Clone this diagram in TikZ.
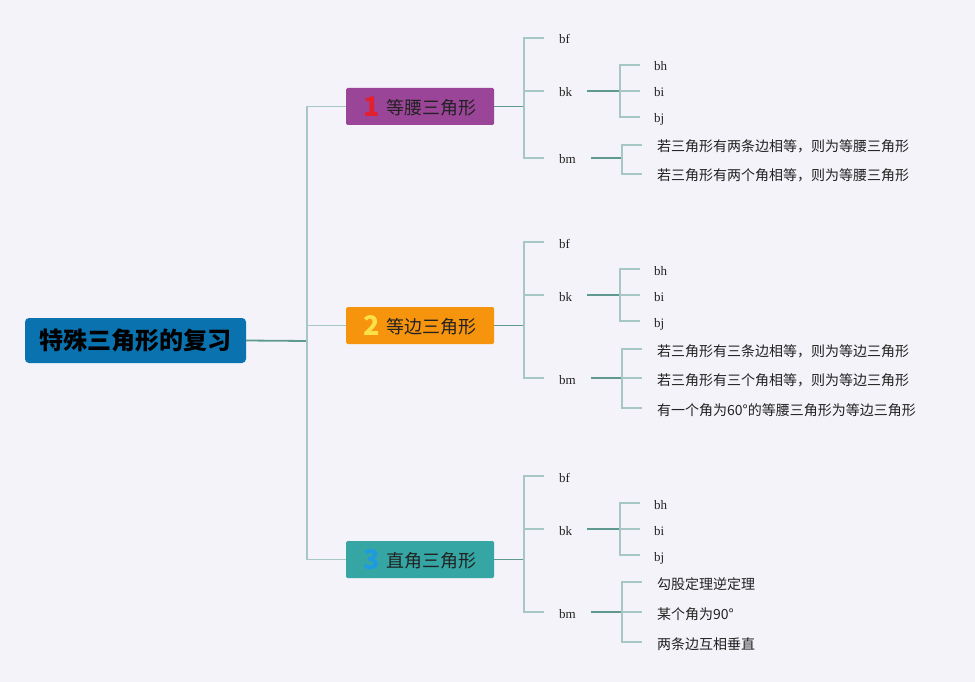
\documentclass[tikz,border=0pt]{standalone}
\usepackage{fontspec}
\setmainfont{Liberation Serif}
\newfontfamily\cjk{Noto Sans CJK SC}
\definecolor{bg}{HTML}{F3F3F9}
\definecolor{rootc}{HTML}{0B72B0}
\definecolor{purp}{HTML}{9B4599}
\definecolor{oran}{HTML}{F7940E}
\definecolor{teal}{HTML}{35A6A4}
\definecolor{lightl}{HTML}{A6C7C3}
\definecolor{darkl}{HTML}{5E9A90}
\definecolor{numred}{HTML}{E3202E}
\definecolor{numyel}{HTML}{FAE14A}
\definecolor{numblu}{HTML}{1E9BE0}
\definecolor{txt}{HTML}{222222}
\begin{document}
\begin{tikzpicture}[x=1pt,y=-1pt,
  rootbox/.style={fill=rootc,rounded corners=4pt,minimum width=221pt,minimum height=45pt,inner sep=0pt,font=\cjk\bfseries\fontsize{24}{24}\selectfont,text=black},
  brbox/.style={fill=#1,rounded corners=1.5pt,minimum width=148pt,minimum height=37pt,inner sep=0pt,font=\cjk\fontsize{18}{18}\selectfont,text=txt},
  lab/.style={anchor=west,inner xsep=15pt,inner ysep=0pt,font=\fontsize{13}{13}\selectfont,text=txt,text height=12pt,text depth=0pt},
  leaf/.style={anchor=west,inner xsep=14pt,inner ysep=0pt,font=\fontsize{13}{13}\selectfont,text=txt,text height=12pt,text depth=0pt},
  cleaf/.style={anchor=west,inner xsep=15pt,inner ysep=0pt,font=\cjk\fontsize{14}{14}\selectfont,text=txt,text height=14pt,text depth=0pt},
  lightline/.style={draw=lightl,line width=1.5pt},
  darkline/.style={draw=darkl,line width=1.8pt}]
\newcommand{\bignum}[2]{\raisebox{-1.5pt}{\textcolor{#1}{\cjk\bfseries\fontsize{27}{27}\selectfont #2}}\hspace{7pt}}
\fill[bg] (0,0) rectangle (975,682);
\useasboundingbox (0,0) rectangle (975,682);

% root
\node[rootbox] (root) at (135.5,340.5) {特殊三角形的复习};
\coordinate (j0) at (307,341);

% branches
\node[brbox=purp] (b1) at (420,106.5) {\bignum{numred}{1}等腰三角形};
\node[brbox=oran] (b2) at (420,325.5) {\bignum{numyel}{2}等边三角形};
\node[brbox=teal] (b3) at (420,559.5) {\bignum{numblu}{3}直角三角形};

\draw[darkline] (root.east) -- (j0);
\draw[lightline] (j0) |- (b1.west);
\draw[lightline] (j0) |- (b2.west);
\draw[lightline] (j0) |- (b3.west);

% ---------- branch 1
\coordinate (ja) at (524,106.5);
\node[lab] (bfa) at (544,38) {bf};
\node[lab] (bka) at (544,91) {bk};
\node[lab] (bma) at (544,158) {bm};
\draw[darkline] (b1.east) -- (ja);
\draw[lightline] (ja) |- (bfa.west);
\draw[lightline] (ja) |- (bka.west);
\draw[lightline] (ja) |- (bma.west);
\coordinate (ka) at (620,91);
\node[leaf] (bha) at (640,65) {bh};
\node[leaf] (bia) at (640,91) {bi};
\node[leaf] (bja) at (640,117) {bj};
\draw[darkline] (bka.east) -- (ka);
\draw[lightline] (ka) |- (bha.west);
\draw[lightline] (ka) -- (bia.west);
\draw[lightline] (ka) |- (bja.west);
\coordinate (ma) at (622,158);
\node[cleaf] (ca1) at (642,145) {若三角形有两条边相等，则为等腰三角形};
\node[cleaf] (ca2) at (642,174) {若三角形有两个角相等，则为等腰三角形};
\draw[darkline] (bma.east) -- (ma);
\draw[lightline] (ma) |- (ca1.west);
\draw[lightline] (ma) |- (ca2.west);

% ---------- branch 2
\coordinate (jb) at (524,325.5);
\node[lab] (bfb) at (544,242) {bf};
\node[lab] (bkb) at (544,295) {bk};
\node[lab] (bmb) at (544,378) {bm};
\draw[darkline] (b2.east) -- (jb);
\draw[lightline] (jb) |- (bfb.west);
\draw[lightline] (jb) |- (bkb.west);
\draw[lightline] (jb) |- (bmb.west);
\coordinate (kb) at (620,295);
\node[leaf] (bhb) at (640,269) {bh};
\node[leaf] (bib) at (640,295) {bi};
\node[leaf] (bjb) at (640,321) {bj};
\draw[darkline] (bkb.east) -- (kb);
\draw[lightline] (kb) |- (bhb.west);
\draw[lightline] (kb) -- (bib.west);
\draw[lightline] (kb) |- (bjb.west);
\coordinate (mb) at (622,378);
\node[cleaf] (cb1) at (642,349) {若三角形有三条边相等，则为等边三角形};
\node[cleaf] (cb2) at (642,378) {若三角形有三个角相等，则为等边三角形};
\node[cleaf] (cb3) at (642,408) {有一个角为60°的等腰三角形为等边三角形};
\draw[darkline] (bmb.east) -- (mb);
\draw[lightline] (mb) |- (cb1.west);
\draw[lightline] (mb) -- (cb2.west);
\draw[lightline] (mb) |- (cb3.west);

% ---------- branch 3
\coordinate (jc) at (524,559.5);
\node[lab] (bfc) at (544,476) {bf};
\node[lab] (bkc) at (544,529) {bk};
\node[lab] (bmc) at (544,612) {bm};
\draw[darkline] (b3.east) -- (jc);
\draw[lightline] (jc) |- (bfc.west);
\draw[lightline] (jc) |- (bkc.west);
\draw[lightline] (jc) |- (bmc.west);
\coordinate (kc) at (620,529);
\node[leaf] (bhc) at (640,503) {bh};
\node[leaf] (bic) at (640,529) {bi};
\node[leaf] (bjc) at (640,555) {bj};
\draw[darkline] (bkc.east) -- (kc);
\draw[lightline] (kc) |- (bhc.west);
\draw[lightline] (kc) -- (bic.west);
\draw[lightline] (kc) |- (bjc.west);
\coordinate (mc) at (622,612);
\node[cleaf] (cc1) at (642,582) {勾股定理逆定理};
\node[cleaf] (cc2) at (642,612) {某个角为90°};
\node[cleaf] (cc3) at (642,642) {两条边互相垂直};
\draw[darkline] (bmc.east) -- (mc);
\draw[lightline] (mc) |- (cc1.west);
\draw[lightline] (mc) -- (cc2.west);
\draw[lightline] (mc) |- (cc3.west);
\end{tikzpicture}
\end{document}
